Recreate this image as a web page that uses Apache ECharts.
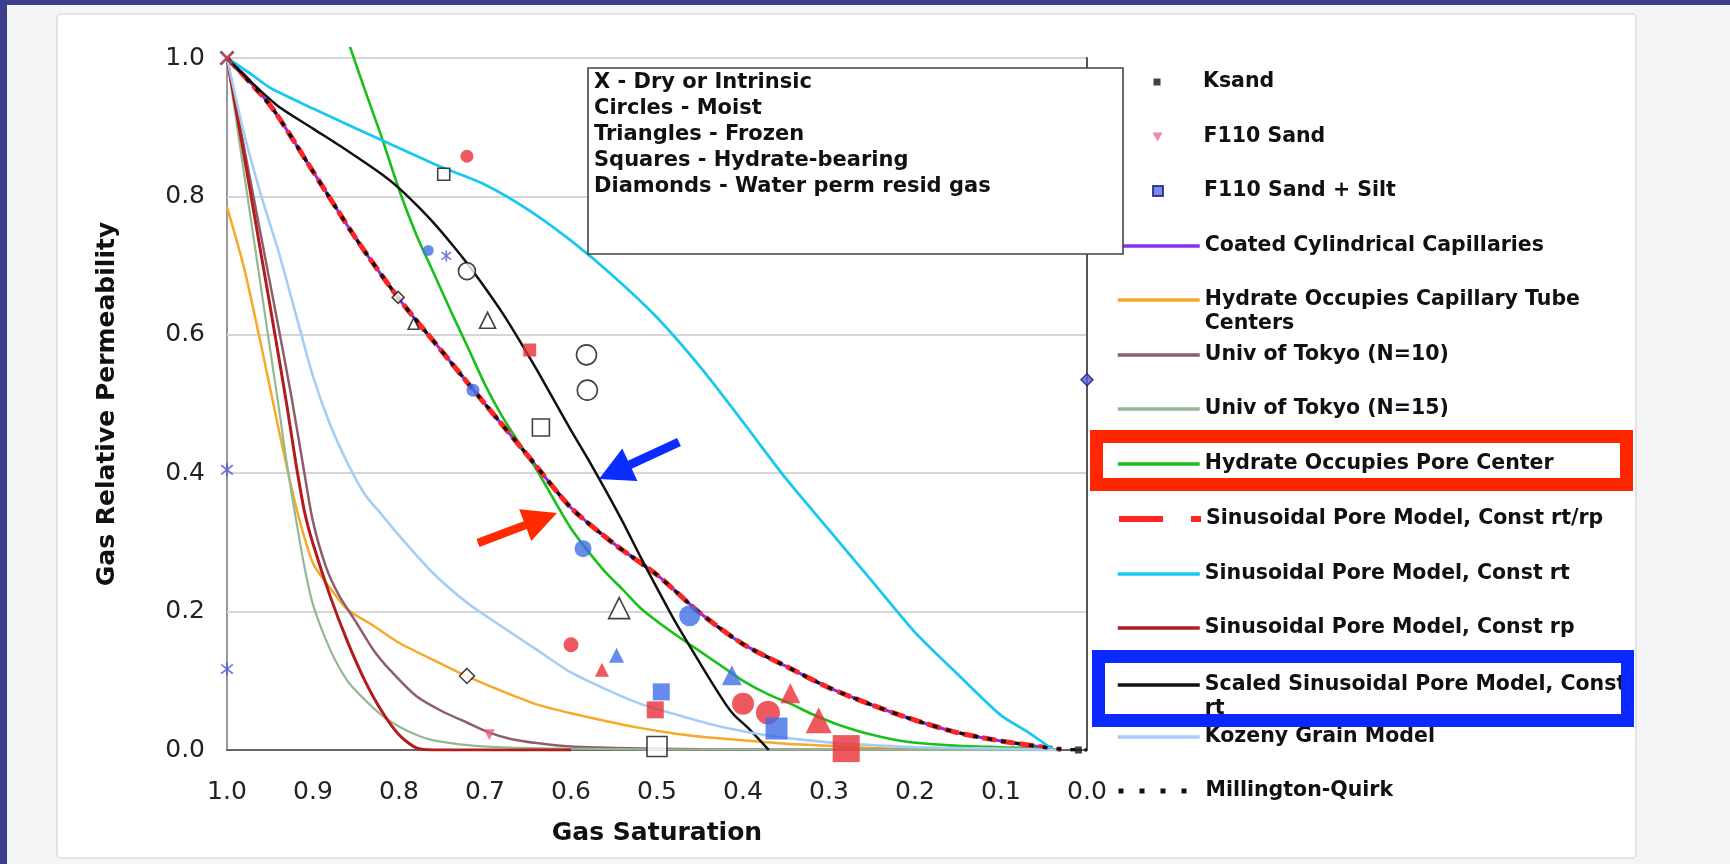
<!DOCTYPE html>
<html>
<head>
<meta charset="utf-8">
<script src="https://cdn.jsdelivr.net/npm/echarts@6/dist/echarts.min.js"></script>
<style>
html,body{margin:0;padding:0;background:#f5f5f7;}
#c{width:1730px;height:864px;}
</style>
</head>
<body>
<div id="c"></div>
<script>
// ---------------- DATA ----------------
const xTickLabels = ['0.0','0.1','0.2','0.3','0.4','0.5','0.6','0.7','0.8','0.9','1.0'];
const yTickLabels = ['0.0','0.2','0.4','0.6','0.8','1.0'];
const xAxisTitle = 'Gas Saturation';
const yAxisTitle = 'Gas Relative Permeability';
const noteLines = ['X - Dry or Intrinsic','Circles - Moist','Triangles - Frozen','Squares - Hydrate-bearing','Diamonds - Water perm resid gas'];

const legendNames = [
  'Ksand','F110 Sand','F110 Sand + Silt','Coated Cylindrical Capillaries',
  'Hydrate Occupies Capillary Tube Centers','Univ of Tokyo (N=10)','Univ of Tokyo (N=15)',
  'Hydrate Occupies Pore Center','Sinusoidal Pore Model, Const rt/rp','Sinusoidal Pore Model, Const rt',
  'Sinusoidal Pore Model, Const rp','Scaled Sinusoidal Pore Model, Const rt','Kozeny Grain Model','Millington-Quirk'
];

// legend-listed point series
const ksandPoints = [[0.01,0.0]];
const f110SandPoints = [[0.695,0.022]];
const f110SiltPoints = [[0.0,0.535]];

// curves [gas saturation, krg]
const coatedCapillaries = [[1.0,1.0],[0.95,0.932],[0.9,0.836],[0.85,0.739],[0.8,0.652],[0.75,0.576],[0.7,0.500],[0.65,0.425],[0.6,0.350],[0.55,0.298],[0.5,0.253],[0.45,0.198],[0.4,0.153],[0.35,0.121],[0.3,0.090],[0.25,0.065],[0.2,0.043],[0.15,0.025],[0.1,0.013],[0.05,0.004]];
const sinusoidalRtRp = [[1.0,1.0],[0.95,0.932],[0.9,0.836],[0.85,0.739],[0.8,0.652],[0.75,0.576],[0.7,0.500],[0.65,0.425],[0.6,0.350],[0.55,0.298],[0.5,0.253],[0.45,0.198],[0.4,0.153],[0.35,0.121],[0.3,0.090],[0.25,0.065],[0.2,0.043],[0.15,0.025],[0.1,0.013],[0.05,0.004],[0.03,0.001]];
const millingtonQuirk = [[1.0,1.0],[0.95,0.932],[0.9,0.836],[0.85,0.739],[0.8,0.652],[0.75,0.576],[0.7,0.500],[0.65,0.425],[0.6,0.350],[0.55,0.298],[0.5,0.253],[0.45,0.198],[0.4,0.153],[0.35,0.121],[0.3,0.090],[0.25,0.065],[0.2,0.043],[0.15,0.025],[0.1,0.013],[0.05,0.004],[0.03,0.001],[0.0,0.0]];
const capillaryTubeCenters = [[1.0,0.785],[0.98,0.696],[0.96,0.583],[0.94,0.464],[0.92,0.353],[0.9,0.270],[0.88,0.234],[0.86,0.203],[0.83,0.180],[0.8,0.155],[0.75,0.124],[0.72,0.106],[0.68,0.085],[0.64,0.066],[0.6,0.053],[0.56,0.042],[0.52,0.032],[0.48,0.024],[0.44,0.018],[0.4,0.014],[0.35,0.009],[0.3,0.006],[0.25,0.003],[0.2,0.001],[0.03,0.0]];
const tokyoN10 = [[1.0,1.0],[0.98,0.87],[0.96,0.74],[0.94,0.61],[0.925,0.51],[0.91,0.40],[0.9,0.33],[0.885,0.265],[0.87,0.224],[0.85,0.185],[0.83,0.145],[0.81,0.115],[0.78,0.078],[0.75,0.056],[0.72,0.039],[0.695,0.025],[0.67,0.016],[0.64,0.010],[0.6,0.005],[0.55,0.003],[0.45,0.001],[0.03,0.0]];
const tokyoN15 = [[1.0,1.0],[0.98,0.832],[0.96,0.664],[0.94,0.497],[0.93,0.41],[0.92,0.335],[0.91,0.265],[0.9,0.21],[0.88,0.145],[0.86,0.10],[0.84,0.073],[0.82,0.050],[0.8,0.034],[0.78,0.022],[0.76,0.014],[0.72,0.007],[0.68,0.004],[0.6,0.002],[0.5,0.001],[0.03,0.0]];
const poreCenter = [[0.857,1.016],[0.84,0.955],[0.82,0.885],[0.8,0.81],[0.78,0.745],[0.76,0.69],[0.74,0.635],[0.72,0.582],[0.7,0.528],[0.68,0.482],[0.66,0.443],[0.64,0.405],[0.62,0.362],[0.6,0.320],[0.58,0.287],[0.56,0.257],[0.54,0.232],[0.52,0.206],[0.5,0.186],[0.48,0.168],[0.46,0.151],[0.44,0.134],[0.42,0.117],[0.4,0.100],[0.37,0.080],[0.345,0.067],[0.32,0.052],[0.29,0.037],[0.25,0.022],[0.21,0.012],[0.15,0.006],[0.1,0.004],[0.05,0.002],[0.03,0.0]];
const sinusoidalRt = [[1.0,1.0],[0.97,0.975],[0.95,0.957],[0.9,0.927],[0.85,0.898],[0.8,0.870],[0.75,0.842],[0.7,0.817],[0.65,0.781],[0.6,0.736],[0.55,0.684],[0.5,0.625],[0.45,0.554],[0.4,0.474],[0.35,0.392],[0.3,0.318],[0.25,0.244],[0.2,0.170],[0.15,0.109],[0.1,0.050],[0.07,0.027],[0.04,0.001]];
const sinusoidalRp = [[1.0,1.0],[0.98,0.858],[0.96,0.714],[0.945,0.606],[0.93,0.495],[0.92,0.415],[0.91,0.345],[0.9,0.298],[0.88,0.222],[0.86,0.157],[0.84,0.101],[0.82,0.056],[0.8,0.022],[0.78,0.003],[0.76,0.0],[0.6,0.0]];
const scaledSinusoidalRt = [[1.0,1.0],[0.97,0.963],[0.94,0.930],[0.9,0.898],[0.86,0.866],[0.82,0.832],[0.8,0.812],[0.78,0.788],[0.76,0.762],[0.74,0.733],[0.72,0.702],[0.7,0.668],[0.68,0.632],[0.66,0.592],[0.64,0.550],[0.62,0.506],[0.6,0.462],[0.58,0.420],[0.56,0.376],[0.54,0.330],[0.52,0.281],[0.5,0.234],[0.48,0.188],[0.46,0.146],[0.44,0.105],[0.42,0.066],[0.41,0.050],[0.395,0.033],[0.37,0.0]];
const kozenyGrain = [[1.0,1.0],[0.98,0.89],[0.96,0.80],[0.94,0.72],[0.92,0.63],[0.9,0.54],[0.88,0.47],[0.86,0.415],[0.84,0.37],[0.82,0.34],[0.8,0.31],[0.76,0.255],[0.72,0.212],[0.68,0.178],[0.64,0.145],[0.6,0.112],[0.56,0.088],[0.52,0.067],[0.48,0.052],[0.44,0.038],[0.4,0.027],[0.36,0.019],[0.3,0.011],[0.25,0.007],[0.2,0.004],[0.1,0.002],[0.03,0.0]];

// measured points without legend entries
const blackXPoints = [[1.0,1.0]];
const redXPoints = [[1.0,1.0]];
const openCircles = [[0.721,0.692],[0.582,0.571],[0.581,0.520]];
const openTriangles = [[0.783,0.616],[0.697,0.621],[0.544,0.205]];
const openSquares = [[0.748,0.832],[0.635,0.466],[0.500,0.005]];
const openDiamonds = [[0.801,0.654],[0.721,0.107]];
const redCircles = [[0.721,0.858],[0.600,0.152],[0.400,0.067],[0.371,0.054]];
const redTriangles = [[0.564,0.116],[0.345,0.082],[0.312,0.043]];
const redSquares = [[0.648,0.578],[0.502,0.058],[0.280,0.002]];
const blueCircles = [[0.766,0.722],[0.714,0.520],[0.586,0.291],[0.462,0.194]];
const blueTriangles = [[0.547,0.137],[0.413,0.108]];
const blueSquares = [[0.495,0.084],[0.361,0.031]];
const blueStars = [[0.745,0.714],[1.0,0.405],[1.0,0.117]];

// ---------------- STYLE / LAYOUT ----------------
const FONT = '"DejaVu Sans", Verdana, sans-serif';
const sizes = {
  openCircles:[17,20,20], openTriangles:[11,16,21], openSquares:[12,17,20], openDiamonds:[12,15],
  redCircles:[13,15,22,24], redTriangles:[14,20,26], redSquares:[13,17,27],
  blueCircles:[11,13,17,21], blueTriangles:[15,20], blueSquares:[17,22], blueStars:[11,13,13]
};
const RED = '#ea2f37', BLUE = '#3f6ee8';
const starPath = 'path://M-1.2,-10L1.2,-10L1.2,10L-1.2,10Z M-6.2,-7.9L7.9,6.2L6.2,7.9L-7.9,-6.2Z M6.2,-7.9L7.9,-6.2L-6.2,7.9L-7.9,6.2Z';
const xPath = 'path://M-6,-8L8,6L6,8L-8,-6Z M6,-8L8,-6L-6,8L-8,6Z';
const legendY = [82,137,191,246,300,355,409,464,519,574,628,685,737,791];
const legendWraps = {
  'Hydrate Occupies Capillary Tube Centers':'\nHydrate Occupies Capillary Tube\nCenters',
  'Scaled Sinusoidal Pore Model, Const rt':'\nScaled Sinusoidal Pore Model, Const\nrt'
};

const lineDefs = [
  {name:legendNames[3], data:coatedCapillaries, color:'#8530f0', width:3},
  {name:legendNames[4], data:capillaryTubeCenters, color:'#f7a928', width:2.5},
  {name:legendNames[5], data:tokyoN10, color:'#8f5e6c', width:2.5},
  {name:legendNames[6], data:tokyoN15, color:'#93b893', width:2.2},
  {name:legendNames[7], data:poreCenter, color:'#19c019', width:2.6, clip:false},
  {name:legendNames[8], data:sinusoidalRtRp, color:'#ff2424', width:5, type:[14,5]},
  {name:legendNames[9], data:sinusoidalRt, color:'#18c8ee', width:2.8},
  {name:legendNames[10], data:sinusoidalRp, color:'#b31c1c', width:3},
  {name:legendNames[11], data:scaledSinusoidalRt, color:'#111111', width:2.5},
  {name:legendNames[12], data:kozenyGrain, color:'#a6cdf4', width:2.6},
  {name:legendNames[13], data:millingtonQuirk, color:'#111111', width:3.5, type:[5,9]}
];

const series = [];
lineDefs.forEach((d, i) => {
  series.push({
    type:'line', name:d.name, data:d.data, symbol:'none', showSymbol:false,
    smooth:0.25, clip: d.clip !== false, z: 2 + i*0.01,
    lineStyle:{color:d.color, width:d.width, type:d.type || 'solid'},
    itemStyle:{color:d.color}, emphasis:{disabled:true}
  });
});

function scatter(name, data, symbol, color, sz, extra) {
  return Object.assign({
    type:'scatter', name, data, symbol, clip:false, z:5,
    symbolSize: Array.isArray(sz) ? ((v, p) => sz[p.dataIndex]) : sz,
    itemStyle:{color}, emphasis:{disabled:true}
  }, extra || {});
}
const openStyle = {color:'#ffffff', borderColor:'#111', borderWidth:1.6};
series.push(
  scatter('Dry X black', blackXPoints, xPath, '#333', 15),
  scatter('Dry X red', redXPoints, xPath, '#e8405a', 12),
  scatter('Moist Ksand', openCircles, 'circle', '#fff', sizes.openCircles, {itemStyle:openStyle}),
  scatter('Frozen Ksand', openTriangles, 'triangle', '#fff', sizes.openTriangles, {itemStyle:openStyle}),
  scatter('Hydrate Ksand', openSquares, 'rect', '#fff', sizes.openSquares, {itemStyle:openStyle}),
  scatter('Resid Ksand', openDiamonds, 'diamond', '#fff', sizes.openDiamonds, {itemStyle:openStyle}),
  scatter('Moist F110', redCircles, 'circle', RED, sizes.redCircles),
  scatter('Frozen F110', redTriangles, 'triangle', RED, sizes.redTriangles),
  scatter('Hydrate F110', redSquares, 'rect', RED, sizes.redSquares),
  scatter('Moist F110 Silt', blueCircles, 'circle', BLUE, sizes.blueCircles),
  scatter('Frozen F110 Silt', blueTriangles, 'triangle', BLUE, sizes.blueTriangles),
  scatter('Hydrate F110 Silt', blueSquares, 'rect', BLUE, sizes.blueSquares),
  scatter('Dry F110 Silt', blueStars, starPath, '#5656d6', sizes.blueStars),
  scatter(legendNames[0], ksandPoints, 'rect', '#111', 7),
  scatter(legendNames[1], f110SandPoints, 'triangle', '#ee5a80', 11, {symbolRotate:180}),
  scatter(legendNames[2], f110SiltPoints, 'diamond', '#5a5ee0', 12, {itemStyle:{color:'#5a5ee0', borderColor:'#1c1c6c', borderWidth:1.5}})
);

// legends: one per entry so the rows keep the reference spacing
const L = 24;
const ICON_LEFT = 1116, ICON_W = 82;
const scatterIcons = [
  {icon:'path://M0,0L10,0L10,10L0,10Z', h:7, color:'#111'},
  {icon:'path://M0,0L10,0L5,9Z', h:9, color:'#e8708a'},
  {icon:'path://M0,0L10,0L10,10L0,10Z', h:10, color:'#5a6cf0'}
];
const legends = legendNames.map((name, i) => {
  const two = !!legendWraps[name];
  const sc = scatterIcons[i];
  const item = {name};
  if (sc) { item.icon = sc.icon; item.itemStyle = {color: sc.color}; }
  const lg = {
    show:true, orient:'vertical',
    left: sc ? ICON_LEFT + ICON_W/2 - sc.h/2 : ICON_LEFT,
    top: two ? legendY[i] - 1.5*L : legendY[i] - L/2,
    padding:0, itemGap:0, itemWidth:ICON_W, itemHeight: sc ? sc.h : 12, symbolKeepAspect:true,
    selectedMode:false, data:[item], z:20,
    formatter: n => legendWraps[n] || n,
    textStyle:{fontFamily:FONT, fontWeight:'bold', fontSize:20.5, color:'#111', lineHeight:L}
  };
  if (!sc) {
    lg.itemStyle = {color:'rgba(0,0,0,0)', opacity:0, borderWidth:0};
    lg.lineStyle = {width:3.5};
  }
  if (name === 'Sinusoidal Pore Model, Const rt/rp') lg.lineStyle = {type:[44,28], width:6};
  if (name === 'Millington-Quirk') lg.lineStyle = {type:[5,16], width:5};
  return lg;
});

// arrows (annotation shapes)
function arrowPts(tail, tip, headLen, headHalf, shaftHalf) {
  const dx = tip[0]-tail[0], dy = tip[1]-tail[1], len = Math.hypot(dx,dy);
  const ux = dx/len, uy = dy/len, px = -uy, py = ux;
  const bx = tip[0]-ux*headLen, by = tip[1]-uy*headLen;
  return [[tail[0]+px*shaftHalf, tail[1]+py*shaftHalf],[bx+px*shaftHalf, by+py*shaftHalf],[bx+px*headHalf, by+py*headHalf],
          tip,[bx-px*headHalf, by-py*headHalf],[bx-px*shaftHalf, by-py*shaftHalf],[tail[0]-px*shaftHalf, tail[1]-py*shaftHalf]];
}

const graphics = [
  {type:'rect', z:-20, shape:{x:0,y:0,width:1730,height:864}, style:{fill:'#f5f5f7'}, silent:true},
  {type:'rect', z:-19, shape:{x:57,y:14,width:1579,height:844,r:4}, style:{fill:'#ffffff', stroke:'#dcdcdc', lineWidth:1.5}, silent:true},
  {type:'rect', z:-18, shape:{x:0,y:0,width:1730,height:5}, style:{fill:'#3b3d8e'}, silent:true},
  {type:'rect', z:-18, shape:{x:0,y:0,width:7,height:864}, style:{fill:'#3b3d8e'}, silent:true},
  {type:'rect', z:30, shape:{x:588,y:68,width:535,height:186}, style:{fill:'#ffffff', stroke:'#444', lineWidth:1.6}, silent:true},
  {type:'text', z:31, x:594, y:70, style:{text:noteLines.join('\n'), font:'bold 21px "DejaVu Sans"', lineHeight:26, fill:'#111', verticalAlign:'top'}, silent:true},
  {type:'rect', z:60, shape:{x:1096.5,y:436.5,width:530,height:48}, style:{fill:'none', stroke:'#ff2600', lineWidth:13}, silent:true},
  {type:'rect', z:60, shape:{x:1098.5,y:656.5,width:529,height:64}, style:{fill:'none', stroke:'#0a28ff', lineWidth:13}, silent:true},
  {type:'polygon', z:60, shape:{points:arrowPts([679,442],[599,479],34,18,4.5)}, style:{fill:'#0a2cff'}, silent:true},
  {type:'polygon', z:60, shape:{points:arrowPts([478,543],[557,513],34,17,4.2)}, style:{fill:'#ff2a00'}, silent:true}
];

const chart = echarts.init(document.getElementById('c'), null, {renderer:'canvas'});
chart.setOption({
  animation:false,
  backgroundColor:'transparent',
  graphic:{elements:graphics},
  grid:{left:227, top:58, width:860, height:692, show:true, backgroundColor:'#ffffff', borderColor:'#999', borderWidth:2, containLabel:false, outerBoundsMode:'none'},
  xAxis:{
    type:'value', min:0, max:1, interval:0.1, inverse:true,
    name:xAxisTitle, nameLocation:'middle', nameGap:71,
    nameTextStyle:{fontFamily:FONT, fontWeight:'bold', fontSize:25, color:'#111'},
    axisLine:{show:true, lineStyle:{color:'#666', width:2}}, axisTick:{show:false},
    axisLabel:{fontFamily:FONT, fontSize:25, color:'#222', margin:30, formatter:v => xTickLabels[Math.round(v*10)]},
    splitLine:{show:false}
  },
  yAxis:{
    type:'value', min:0, max:1, interval:0.2,
    name:yAxisTitle, nameLocation:'middle', nameGap:107, nameRotate:90,
    nameTextStyle:{fontFamily:FONT, fontWeight:'bold', fontSize:25, color:'#111'},
    axisLine:{show:true, lineStyle:{color:'#555', width:2}}, axisTick:{show:false},
    axisLabel:{fontFamily:FONT, fontSize:25, color:'#222', margin:22, formatter:v => yTickLabels[Math.round(v*5)]},
    splitLine:{show:true, lineStyle:{color:'#d6d6d6', width:2}}
  },
  legend:legends,
  series:series
});
</script>
</body>
</html>
